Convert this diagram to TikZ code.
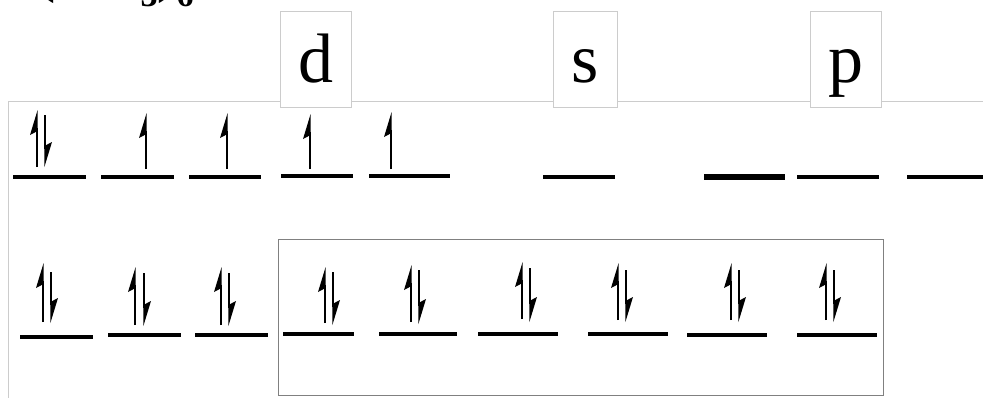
\documentclass[tikz,border=0pt]{standalone}
\usepackage{fontspec}
\setmainfont{Liberation Serif}
\begin{document}
\begin{tikzpicture}[x=1pt,y=-1pt,
  frame/.style={draw=black!20,line width=1pt},
  lblbox/.style={draw=black!20,fill=white,line width=1pt,inner sep=0pt,minimum height=96pt},
  lbl/.style={inner sep=0pt,anchor=base,font=\fontsize{70}{70}\selectfont},
  orb/.style={line width=4pt},
  orbthick/.style={line width=6pt},
  spin/.style={line width=1.2pt},
  grpbox/.style={draw=black!50,line width=1pt}]
\useasboundingbox (0,0) rectangle (983,397);
\newcommand\spinup[3]{\draw[spin] (#1,#3) -- (#1,#2+18);
  \fill (#1+0.6,#2) -- (#1-7,#2+25) -- (#1+0.6,#2+21) -- cycle;}
\newcommand\spindn[3]{\draw[spin] (#1,#2) -- (#1,#3-18);
  \fill (#1-0.6,#3) -- (#1+7,#3-25) -- (#1-0.6,#3-21) -- cycle;}
% cut-off title
\node[inner sep=0pt,anchor=base west,font=\bfseries\fontsize{57}{57}\selectfont] (title) at (36,-9)
  {(NH\raisebox{-0.28em}{\fontsize{34}{34}\selectfont 3})\raisebox{-0.28em}{\fontsize{34}{34}\selectfont 6}};
% frame
\draw[frame] (8,398) -- (8,101) -- (984,101);
% label boxes
\node[lblbox,minimum width=71pt] (dbox) at (316,59) {};
\node[lblbox,minimum width=64pt] (sbox) at (585,59) {};
\node[lblbox,minimum width=71pt] (pbox) at (845.5,59) {};
\node[lbl] (dl) at (316,82) {d};
\node[lbl] (sl) at (585,82) {s};
\node[lbl] (pl) at (845.5,82) {p};
% top row
\draw[orb] (13,177) -- (86,177);
\spinup{37}{110}{167}\spindn{45}{115}{167}
\draw[orb] (101,177) -- (174,177);
\spinup{146}{113}{169}
\draw[orb] (189,177) -- (261,177);
\spinup{227}{113}{169}
\draw[orb] (281,176) -- (353,176);
\spinup{310}{114}{169}
\draw[orb] (369,176) -- (450,176);
\spinup{391}{112}{169}
\draw[orb] (543,177) -- (615,177);
\draw[orbthick] (704,177) -- (785,177);
\draw[orb] (797,177) -- (879,177);
\draw[orb] (907,177) -- (990,177);
% bottom group box
\draw[grpbox] (278,239) rectangle (883,395);
% bottom row
\draw[orb] (20,337) -- (93,337);
\spinup{43}{263}{322}\spindn{51}{272}{323}
\draw[orb] (108,335) -- (181,335);
\spinup{135}{267}{325}\spindn{144}{273}{326}
\draw[orb] (195,335) -- (268,335);
\spinup{221}{267}{325}\spindn{229}{273}{326}
\draw[orb] (283,334) -- (354,334);
\spinup{325}{267}{323}\spindn{333}{272}{325}
\draw[orb] (379,334) -- (457,334);
\spinup{411}{265}{322}\spindn{419}{270}{324}
\draw[orb] (478,334) -- (558,334);
\spinup{522}{262}{319}\spindn{530}{268}{322}
\draw[orb] (588,334) -- (668,334);
\spinup{618}{263}{320}\spindn{626}{270}{322}
\draw[orb] (687,335) -- (767,335);
\spinup{731}{263}{320}\spindn{739}{270}{322}
\draw[orb] (797,335) -- (877,335);
\spinup{826}{263}{320}\spindn{834}{270}{322}
\end{tikzpicture}
\end{document}
